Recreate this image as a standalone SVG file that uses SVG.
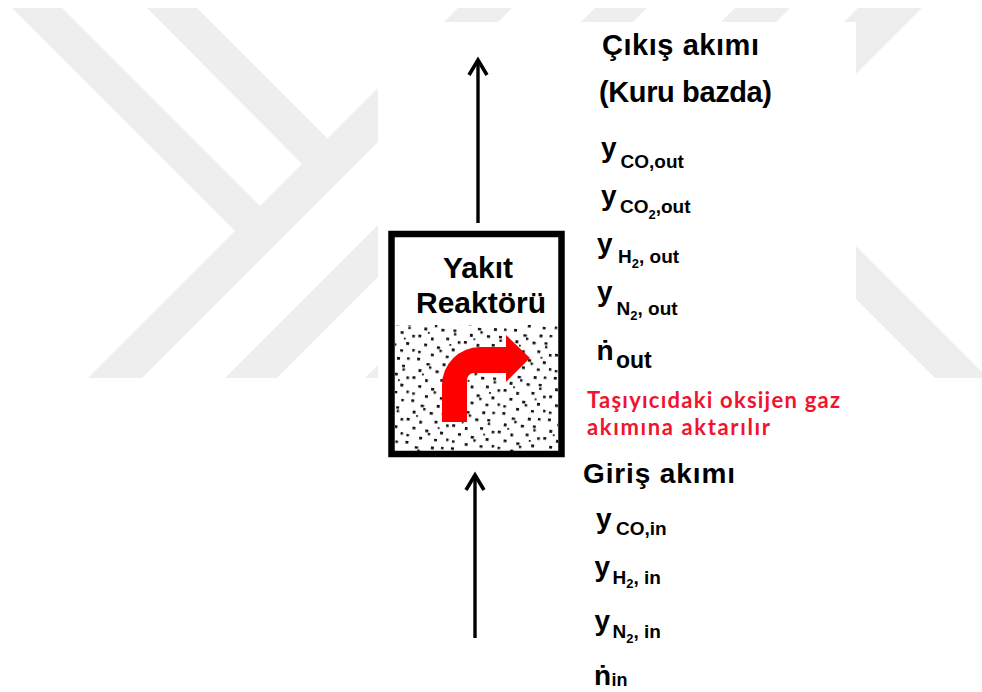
<svg xmlns="http://www.w3.org/2000/svg" width="982" height="692" viewBox="0 0 982 692">
<style>
.t{font-family:"Liberation Sans",Arial,"DejaVu Sans",sans-serif;font-weight:bold;fill:#000}
.head{font-size:29px}
.big{font-size:28px}
.sub{font-size:19px}
.ss{font-size:13px}
.red{font-family:Lato,"Open Sans","Noto Sans",sans-serif;font-weight:bold;font-size:22px;fill:#f0142e}
.wm{fill:#eeeeee}
.conn{stroke:#000;stroke-width:3.4;fill:none}
.dot{fill:#111}
</style>
<defs>
<marker id="arrowOpen" markerUnits="userSpaceOnUse" viewBox="-20 -12 24 24" markerWidth="24" markerHeight="24" refX="0" refY="0" orient="auto">
<path d="M-15,-9 L0,0 L-15,9" fill="none" stroke="#000" stroke-width="3.6" stroke-linejoin="miter"/>
</marker>
<pattern id="speckle" patternUnits="userSpaceOnUse" width="46" height="42" patternTransform="rotate(8)">
<rect class="dot" x="3" y="2" width="3" height="2.6"/>
<rect class="dot" x="13" y="6" width="3.4" height="2.4"/>
<rect class="dot" x="16" y="9" width="2.4" height="2.4"/>
<rect class="dot" x="29" y="4" width="3" height="2.8"/>
<rect class="dot" x="39" y="3" width="2.6" height="2.4"/>
<rect class="dot" x="6" y="13" width="2.8" height="3"/>
<rect class="dot" x="23" y="12" width="3.2" height="2.6"/>
<rect class="dot" x="35" y="11" width="3" height="2.4"/>
<rect class="dot" x="36" y="14.5" width="2.4" height="2.4"/>
<rect class="dot" x="1" y="21" width="3" height="2.6"/>
<rect class="dot" x="14" y="22" width="2.6" height="3"/>
<rect class="dot" x="29" y="20" width="3" height="2.6"/>
<rect class="dot" x="41" y="22" width="2.6" height="2.6"/>
<rect class="dot" x="8" y="29" width="3" height="2.6"/>
<rect class="dot" x="21" y="30" width="3.2" height="2.6"/>
<rect class="dot" x="24" y="33" width="2.4" height="2.4"/>
<rect class="dot" x="36" y="30" width="3" height="2.8"/>
<rect class="dot" x="3" y="37" width="2.6" height="2.4"/>
<rect class="dot" x="16" y="38" width="3" height="2.6"/>
<rect class="dot" x="31" y="38" width="3" height="2.4"/>
<rect class="dot" x="43" y="36" width="2.4" height="2.6"/>
<rect class="dot" x="10" y="17" width="1.8" height="1.8"/>
<rect class="dot" x="33" y="26" width="1.8" height="1.8"/>
</pattern>
</defs>
<rect width="982" height="692" fill="#ffffff"/>
<g id="watermark" class="wm">
<polygon points="458,8 512,8 142,378 88,378"/>
<polygon points="595,8 647,8 277,378 225,378"/>
<polygon points="735,8 790,8 420,378 365,378"/>
<polygon points="858,8 922,8 552,378 488,378"/>
<polygon points="12,8 62,8 287,233 235,231"/>
<polygon points="147,8 197,8 355,166 302,164"/>
<polygon points="760,150 988,378 935,378 720,163"/>
</g>
<rect id="figure-area" x="378" y="22" width="478" height="670" fill="#ffffff"/>
<g id="reactor">
<rect x="395" y="325" width="163" height="126" fill="url(#speckle)"/>
<rect x="391.5" y="234" width="170" height="220" fill="none" stroke="#000" stroke-width="6.5"/>
<path d="M442,422 V385 A38,38 0 0 1 480,347 H506 V335 L530,358 L506,382 V373 H474 A7,7 0 0 0 467,380 V422 Z" fill="#ff0000"/>
<text class="t" x="478" y="278" font-size="30" text-anchor="middle">Yakıt</text>
<text class="t" x="481" y="313" font-size="30" text-anchor="middle">Reaktörü</text>
</g>
<g id="connectors">
<line class="conn" x1="478" y1="223" x2="478" y2="60" marker-end="url(#arrowOpen)"/>
<line class="conn" x1="475" y1="638" x2="475" y2="475" marker-end="url(#arrowOpen)"/>
</g>
<g id="outlet-stream">
<text class="t head" x="602" y="55" textLength="157">Çıkış akımı</text>
<text class="t head" x="599" y="102" textLength="173">(Kuru bazda)</text>
<text class="t big" x="601" y="157">y</text>
<text class="t sub" x="620.5" y="168">CO,out</text>
<text class="t big" x="601" y="204.5">y</text>
<text class="t sub" x="620" y="213">CO<tspan class="ss" dy="6">2</tspan><tspan dy="-6">,out</tspan></text>
<text class="t big" x="597" y="252.5">y</text>
<text class="t sub" x="618" y="263">H<tspan class="ss" dy="5">2</tspan><tspan dy="-5">, out</tspan></text>
<text class="t big" x="597" y="301">y</text>
<text class="t sub" x="616.5" y="315">N<tspan class="ss" dy="5">2</tspan><tspan dy="-5">, out</tspan></text>
<text class="t big" x="596.5" y="360">ṅ</text>
<text class="t" x="616" y="368" font-size="23">out</text>
</g>
<g id="note">
<text class="red" x="587" y="408" textLength="253">Taşıyıcıdaki oksijen gaz</text>
<text class="red" x="587" y="435" textLength="183">akımına aktarılır</text>
</g>
<g id="inlet-stream">
<text class="t big" x="583" y="483" textLength="152">Giriş akımı</text>
<text class="t big" x="596" y="528">y</text>
<text class="t sub" x="616" y="535">CO,in</text>
<text class="t big" x="594.5" y="576">y</text>
<text class="t sub" x="612.5" y="584">H<tspan class="ss" dy="4">2</tspan><tspan dy="-4">, in</tspan></text>
<text class="t big" x="594.5" y="629.5">y</text>
<text class="t sub" x="612.5" y="638">N<tspan class="ss" dy="5">2</tspan><tspan dy="-5">, in</tspan></text>
<text class="t big" x="594" y="685">ṅ</text>
<text class="t" x="611.5" y="686" font-size="18">in</text>
</g>
</svg>
